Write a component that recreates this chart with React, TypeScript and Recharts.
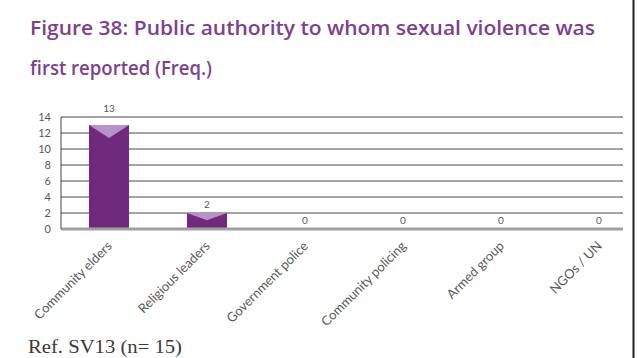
import React from "react";
import { BarChart, Bar, XAxis, YAxis, CartesianGrid, LabelList } from "recharts";

const categories = [
  "Community elders",
  "Religious leaders",
  "Government police",
  "Community policing",
  "Armed group",
  "NGOs / UN",
];
const frequencies = [13, 2, 0, 0, 0, 0];
const yTicks = [0, 2, 4, 6, 8, 10, 12, 14];

const titleLines = [
  "Figure 38: Public authority to whom sexual violence was",
  "first reported (Freq.)",
];
const footnote = "Ref. SV13 (n= 15)";

const data = categories.map((c, i) => ({ name: c, value: frequencies[i] }));

const BAR_DARK = "#702a7d";
const BAR_LIGHT = "#b592c9";
const TEXT_GRAY = "#595959";

const BevelBar = (props: any) => {
  const { x, y, width, height } = props;
  if (!height || height <= 0) return null;
  const d = Math.min(13, height * 0.45);
  return (
    <g>
      <rect x={x} y={y} width={width} height={height} fill={BAR_DARK} />
      <polygon
        points={`${x},${y} ${x + width},${y} ${x + width / 2},${y + d}`}
        fill={BAR_LIGHT}
      />
    </g>
  );
};

const RotTick = (props: any) => {
  const { x, y, payload } = props;
  return (
    <g transform={`translate(${x + 1},${y + 7})`}>
      <text
        x={0}
        y={0}
        dy={4}
        textAnchor="end"
        transform="rotate(-45)"
        fill={TEXT_GRAY}
        fontSize={13}
        fontFamily="Lato, 'Open Sans', sans-serif"
      >
        {payload.value}
      </text>
    </g>
  );
};

const ValueLabel = (props: any) => {
  const { x, y, width, height, value } = props;
  const gap = height > 50 ? 13 : 5;
  return (
    <text
      x={x + width / 2}
      y={y - gap}
      textAnchor="middle"
      fill={TEXT_GRAY}
      fontSize={10}
      fontFamily="Lato, 'Open Sans', sans-serif"
    >
      {value}
    </text>
  );
};

export default function App() {
  return (
    <div
      style={{
        position: "absolute",
        left: 0,
        top: 0,
        width: 637,
        height: 358,
        background: "#fff",
        overflow: "hidden",
      }}
    >
      <svg
        width={637}
        height={358}
        style={{ position: "absolute", left: 0, top: 0 }}
      >
        <text
          x={30}
          y={35}
          fill="#7e3f8f"
          fontSize={19}
          fontWeight={600}
          fontFamily="'Open Sans', sans-serif"
          textLength={565}
          lengthAdjust="spacingAndGlyphs"
        >
          {titleLines[0]}
        </text>
        <text
          x={30}
          y={75}
          fill="#7e3f8f"
          fontSize={19}
          fontWeight={600}
          fontFamily="'Open Sans', sans-serif"
          textLength={182}
          lengthAdjust="spacingAndGlyphs"
        >
          {titleLines[1]}
        </text>
        <text
          x={28}
          y={353}
          fill="#3a3a3a"
          fontSize={18}
          fontFamily="'Liberation Serif', 'Times New Roman', serif"
          textLength={154}
          lengthAdjust="spacingAndGlyphs"
        >
          {footnote}
        </text>
        <line x1={633.5} y1={0} x2={633.5} y2={358} stroke="#222" strokeWidth={2} />
      </svg>
      <div style={{ position: "absolute", left: 0, top: 0 }}>
        <BarChart
          width={637}
          height={358}
          data={data}
          margin={{ top: 117, right: 14, left: 21, bottom: 49 }}
          barSize={40}
        >
          <CartesianGrid
            vertical={false}
            stroke="#a3a3a3"
            strokeWidth={2}
          />
          <XAxis
            dataKey="name"
            interval={0}
            height={80}
            tick={<RotTick />}
            tickLine={false}
            axisLine={{ stroke: "#a0a0a0", strokeWidth: 3 }}
            padding={{ left: -1, right: -25 }}
          />
          <YAxis
            width={40}
            domain={[0, 14]}
            ticks={yTicks}
            interval={0}
            tickLine={false}
            axisLine={{ stroke: "#444", strokeWidth: 1 }}
            tick={{
              fill: TEXT_GRAY,
              fontSize: 11,
              fontFamily: "Lato, 'Open Sans', sans-serif",
            }}
            tickMargin={4}
          />
          <Bar
            dataKey="value"
            isAnimationActive={false}
            shape={<BevelBar />}
          >
            <LabelList dataKey="value" content={<ValueLabel />} />
          </Bar>
        </BarChart>
      </div>
    </div>
  );
}
